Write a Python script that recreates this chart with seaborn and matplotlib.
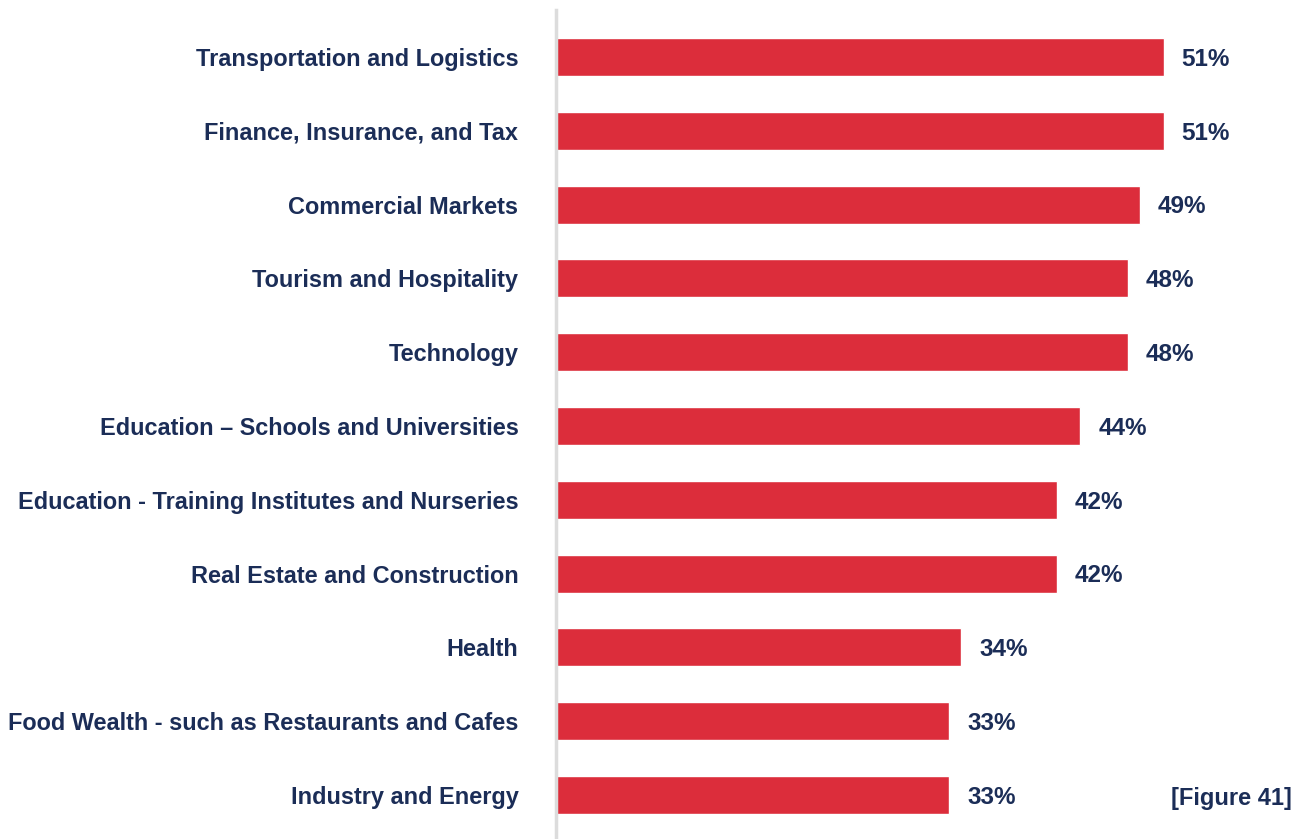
import matplotlib
matplotlib.use("Agg")
import matplotlib.pyplot as plt
import seaborn as sns
import pandas as pd

sectors = [
    "Transportation and Logistics",
    "Finance, Insurance, and Tax",
    "Commercial Markets",
    "Tourism and Hospitality",
    "Technology",
    "Education \u2013 Schools and Universities",
    "Education - Training Institutes and Nurseries",
    "Real Estate and Construction",
    "Health",
    "Food Wealth - such as Restaurants and Cafes",
    "Industry and Energy",
]
shares = [51, 51, 49, 48, 48, 44, 42, 42, 34, 33, 33]
figure_tag = "[Figure 41]"

df = pd.DataFrame({"sector": sectors, "share": shares})

NAVY = "#1B2D57"
RED = "#DC2D3B"

sns.set_theme(style="white")
plt.rcParams["font.family"] = ["Liberation Sans", "DejaVu Sans"]

fig = plt.figure(figsize=(13.08, 8.39), dpi=100)
W, H = 1308, 839
ax = fig.add_axes([556 / W, 0, (W - 556) / W, (839 - 10) / H])

sns.barplot(data=df, x="share", y="sector", orient="h", color=RED,
            width=0.515, saturation=1, ax=ax)

ax.set_xlim(0, 63.1)
ax.set_ylim(10.596, -0.637)
ax.set_xlabel("")
ax.set_ylabel("")
ax.set_xticks([])

for s in ["top", "right", "bottom"]:
    ax.spines[s].set_visible(False)
ax.spines["left"].set_color("#DCDCDC")
ax.spines["left"].set_linewidth(2.5)

ax.tick_params(axis="y", length=0, pad=27, labelsize=16.9, labelcolor=NAVY)
for lab in ax.get_yticklabels():
    lab.set_fontweight("bold")

# value labels just past the end of each bar
for i, v in enumerate(shares):
    ax.text(v + 1.5, i + 0.03, f"{v}%", va="center", ha="left",
            fontsize=17.5, fontweight="bold", color=NAVY)

fig.text(1292 / W, 1 - 798 / H, figure_tag, ha="right", va="center",
         fontsize=17, fontweight="bold", color=NAVY)

fig.savefig("out.png", dpi=100, facecolor="white")
